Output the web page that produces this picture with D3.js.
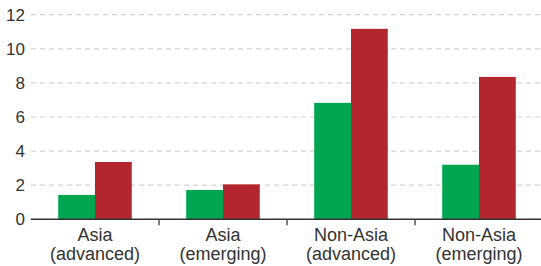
<!DOCTYPE html>
<html lang="en">
<head>
<meta charset="utf-8">
<script src="https://d3js.org/d3.v7.min.js"></script>
<style>
  body { margin: 0; background: #fff; }
  text { font-family: "Liberation Sans", Arial, sans-serif; fill: #333; }
</style>
</head>
<body>
<script>
  const categories = [["Asia", "(advanced)"], ["Asia", "(emerging)"], ["Non-Asia", "(advanced)"], ["Non-Asia", "(emerging)"]]
  const seriesGreen = [1.43, 1.72, 6.83, 3.2]
  const seriesRed = [3.36, 2.05, 11.17, 8.35]
  const yTicks = [0, 2, 4, 6, 8, 10, 12]

  const w = 541, h = 266
  const plotLeft = 31, plotRight = 543, plotTop = 14.7, plotBottom = 219.3

  const svg = d3.select("body").append("svg").attr("width", w).attr("height", h)

  const x = d3.scaleBand().domain(d3.range(categories.length)).range([plotLeft, plotRight])
  const sub = d3.scaleBand().domain([0, 1]).range([0, x.bandwidth()]).paddingOuter(0.74).paddingInner(0)
  const y = d3.scaleLinear().domain([0, 12]).range([plotBottom, plotTop])

  // grid
  svg.append("g").selectAll("line")
    .data(yTicks.filter(d => d > 0))
    .enter().append("line")
    .attr("x1", plotLeft).attr("x2", w)
    .attr("y1", d => y(d)).attr("y2", d => y(d))
    .attr("stroke", "#d4d4d4").attr("stroke-width", 1.2)
    .attr("stroke-dasharray", "5,4")

  // y labels
  svg.append("g").selectAll("text")
    .data(yTicks)
    .enter().append("text")
    .attr("x", 25).attr("y", d => y(d))
    .attr("dy", "0.36em")
    .attr("text-anchor", "end")
    .attr("font-size", "17px")
    .text(d => d)

  const groups = svg.append("g").selectAll("g")
    .data(categories.map((c, i) => i))
    .enter().append("g")
    .attr("transform", i => `translate(${x(i)},0)`)

  groups.append("rect")
    .attr("x", sub(0)).attr("width", sub.bandwidth())
    .attr("y", i => y(seriesGreen[i])).attr("height", i => y(0) - y(seriesGreen[i]))
    .attr("fill", "#00a64f")
  groups.append("rect")
    .attr("x", sub(1)).attr("width", sub.bandwidth())
    .attr("y", i => y(seriesRed[i])).attr("height", i => y(0) - y(seriesRed[i]))
    .attr("fill", "#b3252f")

  // x axis
  svg.append("line")
    .attr("x1", plotLeft).attr("x2", w)
    .attr("y1", plotBottom).attr("y2", plotBottom)
    .attr("stroke", "#333").attr("stroke-width", 1.5)
  svg.append("g").selectAll("line")
    .data(d3.range(1, categories.length))
    .enter().append("line")
    .attr("x1", i => x(i)).attr("x2", i => x(i))
    .attr("y1", plotBottom).attr("y2", plotBottom + 6)
    .attr("stroke", "#555").attr("stroke-width", 1.5)

  const labels = svg.append("g").selectAll("text")
    .data(categories)
    .enter().append("text")
    .attr("text-anchor", "middle")
    .attr("font-size", "18px")
  labels.append("tspan")
    .attr("x", (d, i) => x(i) + x.bandwidth() / 2).attr("y", 240.5)
    .text(d => d[0])
  labels.append("tspan")
    .attr("x", (d, i) => x(i) + x.bandwidth() / 2).attr("y", 260)
    .text(d => d[1])
</script>
</body>
</html>
